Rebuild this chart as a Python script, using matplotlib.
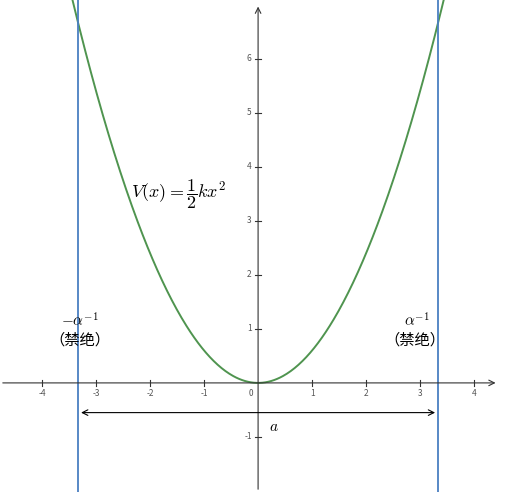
import numpy as np
import matplotlib.pyplot as plt

plt.rcParams['font.family'] = ['Noto Sans CJK SC', 'DejaVu Sans']
plt.rcParams['mathtext.fontset'] = 'cm'

# data
half_k = 0.6
wall = 3.33
xticks = [-4, -3, -2, -1, 1, 2, 3, 4]
yticks = [-1, 1, 2, 3, 4, 5, 6]

fig = plt.figure(figsize=(5.07, 4.92), dpi=100)
ax = fig.add_axes([0, 0, 1, 1])
ax.set_xlim(-4.78, 4.61)
ax.set_ylim(-2.02, 7.09)
ax.axis('off')

# axes lines with arrows
ax.annotate('', xy=(4.45, 0), xytext=(-4.78, 0),
            arrowprops=dict(arrowstyle='->', color='#333333', lw=0.8))
ax.annotate('', xy=(0, 7.02), xytext=(0, -2.02),
            arrowprops=dict(arrowstyle='->', color='#333333', lw=0.8))
for t in xticks:
    ax.plot([t, t], [-0.05, 0.05], color='#333333', lw=0.8)
    ax.text(t, -0.12, str(t), ha='center', va='top', fontsize=6, color='#555555')
for t in yticks:
    ax.plot([-0.05, 0.05], [t, t], color='#333333', lw=0.8)
    ax.text(-0.12, t, str(t), ha='right', va='center', fontsize=6, color='#555555')
ax.text(-0.1, -0.12, '0', ha='right', va='top', fontsize=6, color='#555555')

x = np.linspace(-3.6, 3.6, 400)
ax.plot(x, half_k * x**2, color='#4f944f', lw=1.4)
for s in (-wall, wall):
    ax.axvline(s, color='#4a7fc1', lw=1.3)

ax.annotate('', xy=(-wall, -0.55), xytext=(wall, -0.55),
            arrowprops=dict(arrowstyle='<->', color='black', lw=0.8,
                            mutation_scale=10))
ax.text(0.2, -0.65, '$a$', fontsize=11, va='top')
ax.text(-2.35, 3.5, r'$V(x) = \dfrac{1}{2}kx^2$', fontsize=13, va='center')
ax.text(-3.3, 1.15, r'$-\alpha^{-1}$', fontsize=11, ha='center', va='center')
ax.text(-3.3, 0.8, '（禁绝）', fontsize=11, ha='center', va='center')
ax.text(2.95, 1.15, r'$\alpha^{-1}$', fontsize=11, ha='center', va='center')
ax.text(2.9, 0.8, '（禁绝）', fontsize=11, ha='center', va='center')

fig.savefig('out.png')
